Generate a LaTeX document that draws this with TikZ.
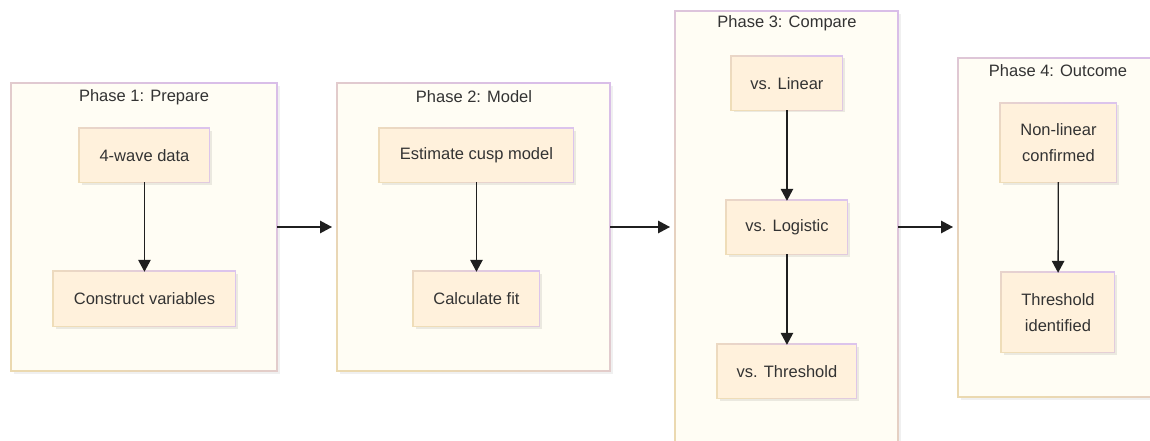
\documentclass[tikz,border=0pt]{standalone}
\usepackage{fontspec}
\setmainfont{Liberation Sans}
\usetikzlibrary{arrows.meta,calc}

\definecolor{panelfill}{HTML}{FFFDF4}
\definecolor{panelgold}{HTML}{EBD9B0}
\definecolor{panellav}{HTML}{D9BEE8}
\definecolor{boxfill}{HTML}{FFF1DC}
\definecolor{boxgold}{HTML}{EFDDB8}
\definecolor{boxlav}{HTML}{DCC4EC}
\definecolor{ink}{HTML}{333333}

\tikzset{
  x=1pt, y=-1pt,
  every node/.style={text=ink, font=\fontsize{16.5}{20}\selectfont},
  stepbox/.style={draw=boxlav, line width=0.9pt, fill=boxfill, inner sep=0pt, align=center},
  flow/.style={-{Triangle[length=12pt,width=12.5pt]}, line width=1.3pt, draw=black!88},
  ptitle/.style={anchor=center},
}

% soft panel with a diagonal gold-to-lavender rim and a faint drop shadow
\newcommand{\phasepanel}[4]{%
  \fill[black, opacity=0.06] ($(#1,#2)+(3,3)$) rectangle ($(#3,#4)+(3,3)$);
  \shade[shading=axis, left color=panelgold, right color=panellav, shading angle=135]
    ($(#1,#2)+(-0.8,-0.8)$) rectangle ($(#3,#4)+(0.8,0.8)$);
  \fill[panelfill] ($(#1,#2)+(0.8,0.8)$) rectangle ($(#3,#4)+(-0.8,-0.8)$);
}

% a step box: shadow, rim and fill, then the named text node on top
\newcommand{\stepnode}[6]{%
  \fill[black, opacity=0.08] (#2+2.5,#3+2.5) rectangle ++(#4,#5);
  \shade[shading=axis, left color=boxgold, right color=boxlav, shading angle=135]
    (#2-0.8,#3-0.8) rectangle ++(#4+1.6,#5+1.6);
  \node[stepbox, draw=none, minimum width=#4*1pt-1.6pt, minimum height=#5*1pt-1.6pt, anchor=north west]
    (#1) at (#2+0.8,#3+0.8) {#6};
}

\begin{document}
\begin{tikzpicture}
\useasboundingbox (0,0) rectangle (1150,441);
\clip (0,0) rectangle (1150,441);
\fill[white] (0,0) rectangle (1150,441);

% phase panels
\phasepanel{11}{83}{277}{371}
\phasepanel{337}{83}{610}{371}
\phasepanel{675}{11}{898}{470}
\phasepanel{958}{58}{1170}{397}

\node[ptitle] (t1) at (144,97) {Phase 1: Prepare};
\node[ptitle] (t2) at (474,97) {Phase 2: Model};
\node[ptitle] (t3) at (787,23) {Phase 3: Compare};
\node[ptitle] (t4) at (1058,71) {Phase 4: Outcome};

% invisible anchors for the panel-to-panel arrows
\coordinate (p1e) at (277,227);
\coordinate (p2w) at (337,227);
\coordinate (p2e) at (610,227);
\coordinate (p3w) at (675,227);
\coordinate (p3e) at (898,227);
\coordinate (p4w) at (958,227);

% steps
\stepnode{data}{79}{128}{130}{54}{4-wave data}
\stepnode{vars}{53}{271}{182}{55}{Construct variables}
\stepnode{cusp}{379}{128}{194}{54}{Estimate cusp model}
\stepnode{fit}{413}{271}{126}{55}{Calculate fit}
\stepnode{lin}{731}{56}{111}{54}{vs. Linear}
\stepnode{logi}{726}{200}{121}{54}{vs. Logistic}
\stepnode{thr}{717}{344}{139}{54}{vs. Threshold}
\stepnode{conf}{1000}{103}{116}{79}{Non-linear\\[6pt]confirmed}
\stepnode{ident}{1001}{272}{113}{80}{Threshold\\[6pt]identified}

% arrows within phases
\draw[flow] (data) -- (vars);
\draw[flow] (cusp) -- (fit);
\draw[flow] (lin) -- (logi);
\draw[flow] (logi) -- (thr);
\draw[flow] (conf) -- (ident);

% arrows between phases
\draw[flow] (p1e) -- ($(p2w)+(-5,0)$);
\draw[flow] (p2e) -- ($(p3w)+(-5,0)$);
\draw[flow] (p3e) -- ($(p4w)+(-5,0)$);
\end{tikzpicture}
\end{document}
